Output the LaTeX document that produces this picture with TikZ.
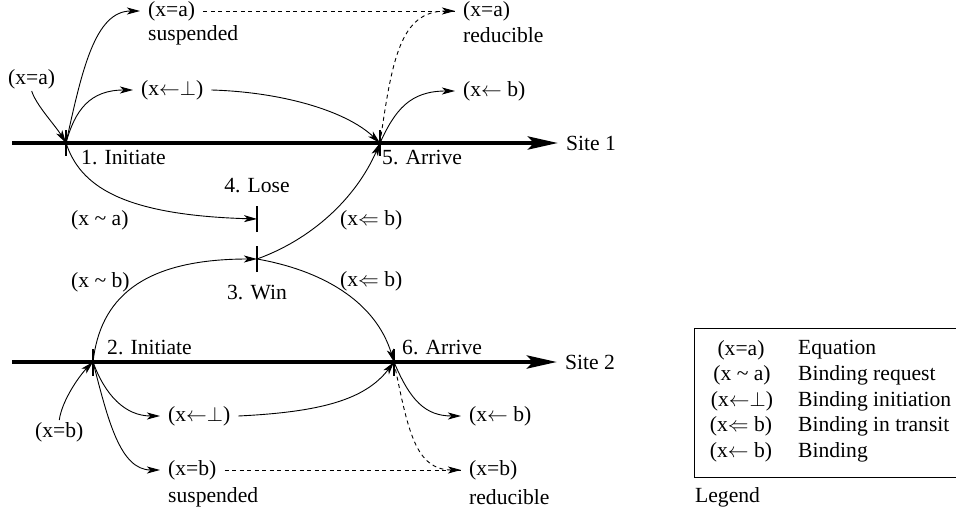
\documentclass[tikz,border=0pt]{standalone}
\usepackage{fontspec}
\setmainfont{Liberation Serif}
\usetikzlibrary{arrows.meta}
\begin{document}
\begin{tikzpicture}[x=1pt,y=-1pt,
  every node/.style={font=\fontsize{21.6}{25}\selectfont},
  lbl/.style={inner xsep=8pt, inner ysep=2pt, anchor=west},
  plain/.style={inner sep=0pt, anchor=west},
  conn/.style={line width=0.9pt, -{Stealth[length=13pt,width=7pt,inset=3.5pt]}},
  dconn/.style={conn, dashed, dash pattern=on 4pt off 3.5pt},
  dline/.style={line width=0.9pt, dashed, dash pattern=on 4pt off 3.5pt},
  siteline/.style={line width=4.6pt, -{Stealth[length=30pt,width=13pt,inset=6pt]}},
  tick/.style={line width=2.8pt}]
\useasboundingbox (0,0) rectangle (956,516);

% event points
\coordinate (e1) at (66,143);
\coordinate (e5) at (380,143);
\coordinate (e2) at (93,362);
\coordinate (e6) at (394,362);
\coordinate (e4) at (257,219);
\coordinate (e3) at (257,259);
\coordinate (s1) at (12,143);
\coordinate (s2) at (12,362);

% labels
\node[lbl] (inA) at (0,79) {(x=a)};
\node[lbl] (susA) at (140,11) {(x=a)};
\node[plain] (susAl) at (148,35) {suspended};
\node[lbl] (botA) at (133,90) {(x$\leftarrow\perp$)};
\node[lbl] (redA) at (455,11) {(x=a)};
\node[plain] (redAl) at (463,35) {reducible};
\node[lbl] (bindA) at (455,91) {(x$\leftarrow$ b)};
\node[plain] (lab1) at (81,158) {1. Initiate};
\node[plain] (lab5) at (382,158) {5. Arrive};
\node[lbl] (site1) at (558,143) {Site 1};
\node[inner sep=0pt] (lose) at (257,186) {4. Lose};
\node[inner sep=0pt] (win) at (257,293) {3. Win};
\node[plain] (reqA) at (71,220) {(x \textasciitilde\ a)};
\node[plain] (reqB) at (71,282) {(x \textasciitilde\ b)};
\node[plain] (trA) at (340,220) {(x$\Leftarrow$ b)};
\node[plain] (trB) at (340,281) {(x$\Leftarrow$ b)};
\node[plain] (lab2) at (107,348) {2. Initiate};
\node[plain] (lab6) at (402,348) {6. Arrive};
\node[lbl] (site2) at (557,362) {Site 2};
\node[lbl] (inB) at (27,432) {(x=b)};
\node[lbl] (botB) at (160,416) {(x$\leftarrow\perp$)};
\node[lbl] (susB) at (160,470) {(x=b)};
\node[plain] (susBl) at (168,497) {suspended};
\node[lbl] (bindB) at (461,416) {(x$\leftarrow$ b)};
\node[lbl] (redB) at (461,470) {(x=b)};
\node[plain] (redBl) at (469,497) {reducible};

% site lines
\draw[siteline] (s1) -- (site1.west);
\draw[siteline] (s2) -- (site2.west);

% ticks
\foreach \p/\h in {e1/13,e5/13,e2/13.5,e6/13.5,e4/13,e3/13}
  \draw[tick] ([yshift=-\h pt]\p) -- ([yshift=\h pt]\p);

% site 1 connectors
\draw[conn] (inA.south) .. controls (36,105) and (55,125) .. (e1);
\draw[conn] (e1) .. controls (82,70) and (95,11) .. (susA.west);
\draw[conn] (e1) .. controls (75,110) and (90,90) .. (botA.west);
\draw[conn] (botA.east) .. controls (280,92) and (345,110) .. (e5);
\draw[dline] (susA.east) -- (redA.west);
\draw[dconn] (e5) .. controls (392,60) and (400,11) .. (redA.west);
\draw[conn] (e5) .. controls (395,110) and (410,91) .. (bindA.west);
\draw[conn] (e1) .. controls (80,185) and (120,215) .. (e4);

% win / transit
\draw[conn] (e2) .. controls (100,300) and (140,259) .. (e3);
\draw[conn] (e3) .. controls (310,240) and (355,200) .. (e5);
\draw[conn] (e3) .. controls (320,270) and (375,300) .. (e6);

% site 2 connectors
\draw[conn] (inB.north) .. controls (62,400) and (80,375) .. (e2);
\draw[conn] (e2) .. controls (105,395) and (125,416) .. (botB.west);
\draw[conn] (botB.east) .. controls (320,412) and (365,400) .. (e6);
\draw[conn] (e2) .. controls (108,420) and (120,470) .. (susB.west);
\draw[dline] (susB.east) -- (redB.west);
\draw[conn] (e6) .. controls (410,400) and (425,416) .. (bindB.west);
\draw[dconn] (e6) .. controls (408,430) and (415,470) .. (redB.west);

% legend
\node[draw, line width=0.8pt, anchor=north west, minimum width=264pt, minimum height=149pt, inner sep=0pt] (legbox) at (694,328) {};
\node[inner sep=0pt] (k1) at (741,350) {(x=a)};
\node[inner sep=0pt] (k2) at (742,375.5) {(x \textasciitilde\ a)};
\node[inner sep=0pt] (k3) at (742,401) {(x$\leftarrow\perp$)};
\node[inner sep=0pt] (k4) at (741,426.5) {(x$\Leftarrow$ b)};
\node[inner sep=0pt] (k5) at (741,452) {(x$\leftarrow$ b)};
\node[plain] (d1) at (798,350) {Equation};
\node[plain] (d2) at (798,375.5) {Binding request};
\node[plain] (d3) at (798,401) {Binding initiation};
\node[plain] (d4) at (798,426.5) {Binding in transit};
\node[plain] (d5) at (798,452) {Binding};
\node[plain] (legl) at (695,497) {Legend};
\end{tikzpicture}
\end{document}
